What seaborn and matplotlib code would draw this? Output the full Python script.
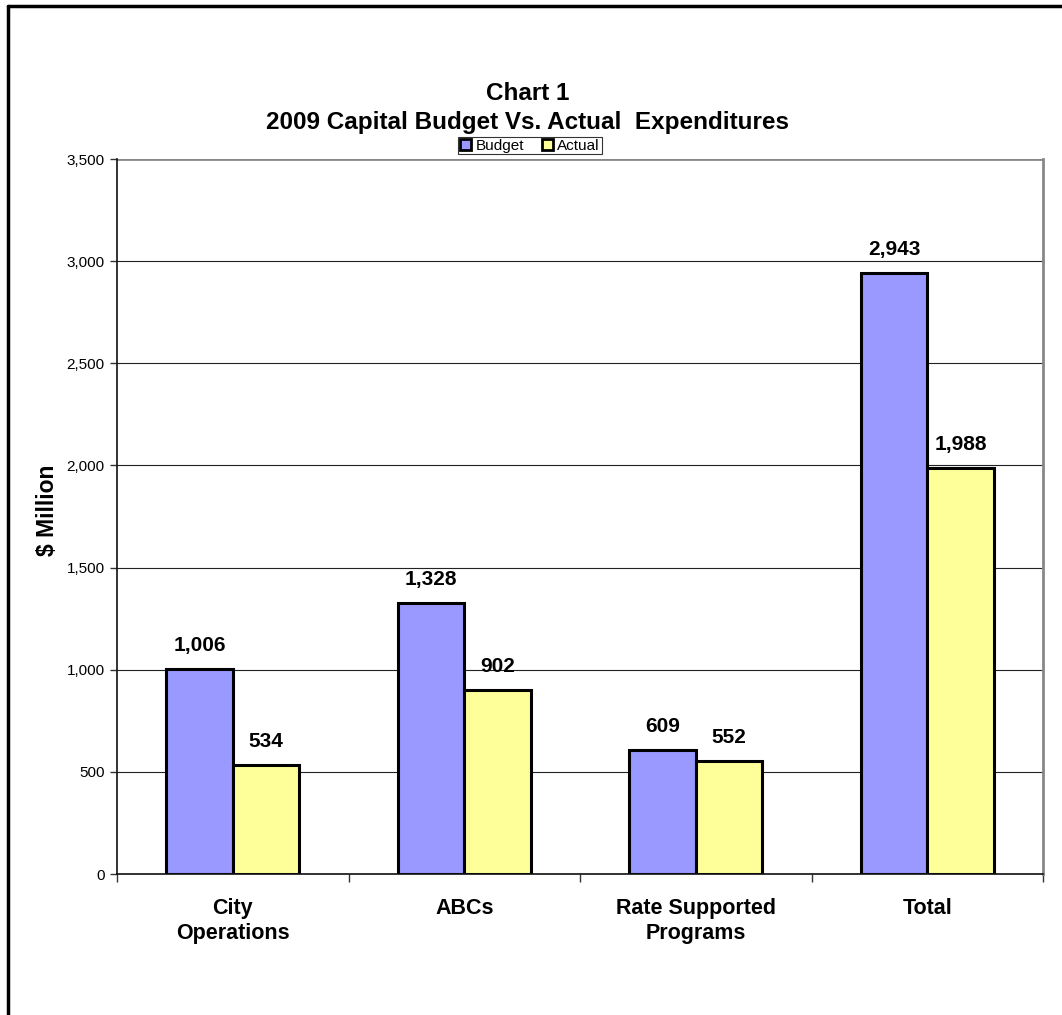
import matplotlib
matplotlib.use("Agg")
import matplotlib.pyplot as plt
from matplotlib.lines import Line2D
from matplotlib.patches import Patch
from matplotlib.ticker import FuncFormatter, FixedLocator
import seaborn as sns
import pandas as pd

categories = ["City\nOperations", "ABCs", "Rate Supported\nPrograms", "Total"]
budget = [1006, 1328, 609, 2943]
actual = [534, 902, 552, 1988]
series_names = ["Budget", "Actual"]
colors = ["#9999FF", "#FFFF99"]

df = pd.DataFrame({
    "category": categories * 2,
    "value": budget + actual,
    "series": [series_names[0]] * len(categories) + [series_names[1]] * len(categories),
})

sns.set_theme(style="white")
plt.rcParams["font.family"] = ["Liberation Sans", "DejaVu Sans"]
plt.rcParams["text.color"] = "black"
plt.rcParams["axes.labelcolor"] = "black"
plt.rcParams["xtick.color"] = "black"
plt.rcParams["ytick.color"] = "black"

fig = plt.figure(figsize=(10.62, 10.15), dpi=100)
ax = fig.add_axes([0.1102, 0.1389, 0.8719, 0.7044])

sns.barplot(data=df, x="category", y="value", hue="series", order=categories,
            hue_order=series_names, palette=colors, saturation=1, width=0.575,
            edgecolor="black", linewidth=2.2, gap=0, ax=ax, legend=False)

ax.set_ylim(0, 3500)
ax.set_xlim(-0.5, len(categories) - 0.5)
ax.yaxis.set_major_locator(FixedLocator(list(range(0, 3501, 500))))
ax.yaxis.set_major_formatter(FuncFormatter(lambda v, p: f"{int(v):,}"))
ax.grid(axis="y", color="#222222", linewidth=0.8)
ax.set_axisbelow(True)
for g in ax.get_ygridlines()[-1:]:
    g.set_color("#888888")
    g.set_linewidth(2)

# x ticks: marks at category boundaries, labels at centers
ax.set_xticks([i - 0.5 for i in range(len(categories) + 1)])
ax.set_xticklabels([])
ax.set_xticks(range(len(categories)), minor=True)
ax.set_xticklabels(categories, minor=True, fontsize=15.5, fontweight="bold", linespacing=1.3)
ax.tick_params(axis="x", which="major", direction="out", length=6, width=1, color="#333333", bottom=True)
ax.tick_params(axis="x", which="minor", length=0, pad=17)
ax.tick_params(axis="y", direction="out", length=5, width=1, color="#333333", left=True, labelsize=11, pad=4)
ax.set_xlabel("")
ax.set_ylabel("$ Million", fontsize=16.5, fontweight="bold")
ax.yaxis.set_label_coords(-0.063, 0.509)

for s in ["left", "bottom"]:
    ax.spines[s].set_color("#111111")
    ax.spines[s].set_linewidth(1.2)
ax.spines["top"].set_visible(False)
ax.spines["right"].set_color("#888888")
ax.spines["right"].set_linewidth(2)

for cont in ax.containers:
    vals = [b.get_height() for b in cont]
    ax.bar_label(cont, labels=[f"{int(v):,}" for v in vals], padding=10,
                 fontsize=15, fontweight="bold")

fig.text(0.497, 0.8935, "Chart 1\n2009 Capital Budget Vs. Actual  Expenditures",
         ha="center", va="center", fontsize=17.5, fontweight="bold", linespacing=1.3)

handles = [Patch(facecolor=c, edgecolor="black", linewidth=2) for c in colors]
leg = fig.legend(handles, series_names, loc="center", bbox_to_anchor=(0.499, 0.8565),
                 ncol=2, fontsize=11, frameon=True, fancybox=False, handlelength=0.7,
                 handleheight=0.7, handletextpad=0.3, columnspacing=1.2,
                 borderpad=0.12, borderaxespad=0)
leg.get_frame().set_edgecolor("black")
leg.get_frame().set_linewidth(0.8)
leg.set_zorder(5)

# figure border (top and left visible)
fig.add_artist(Line2D([8 / 1062, 8 / 1062], [0, 1 - 6 / 1015], transform=fig.transFigure, color="black", linewidth=2.5))
fig.add_artist(Line2D([8 / 1062, 1], [1 - 6 / 1015, 1 - 6 / 1015], transform=fig.transFigure, color="black", linewidth=2.5))

fig.savefig("out.png", dpi=100)
